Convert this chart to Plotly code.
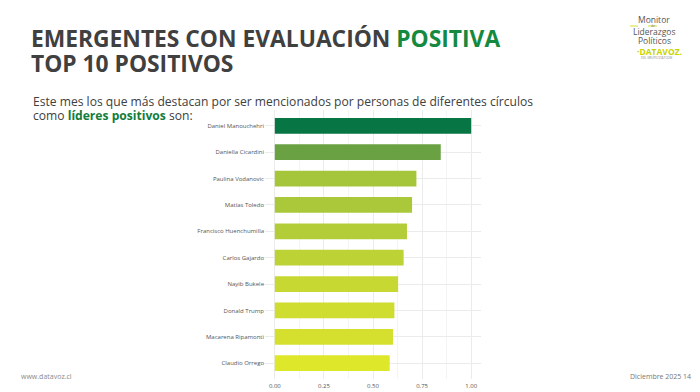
import plotly.graph_objects as go

names = ["Daniel Manouchehri", "Daniella Cicardini", "Paulina Vodanovic", "Matías Toledo",
         "Francisco Huenchumilla", "Carlos Gajardo", "Nayib Bukele", "Donald Trump",
         "Macarena Ripamonti", "Claudio Orrego"]
values = [1.00, 0.845, 0.721, 0.699, 0.673, 0.656, 0.628, 0.609, 0.602, 0.585]
bar_colors = ["#077544", "#6aa243", "#a5c53a", "#aac83a", "#b3cd38", "#bcd235",
              "#c7d832", "#cfdc30", "#d5e02e", "#dee72a"]
tick_vals = [0, 0.25, 0.5, 0.75, 1.0]
tick_text = ["0.00", "0.25", "0.50", "0.75", "1.00"]

W, H = 700, 392
L, R, T, B = 265, 700 - 481, 110, 392 - 379
PW, PH = W - L - R, H - T - B

def px(x):
    return (x - L) / PW

def py(y):
    return (H - B - y) / PH

fig = go.Figure(go.Bar(
    y=names, x=values, orientation="h", width=0.6,
    marker=dict(color=bar_colors, line=dict(width=0)),
    hoverinfo="skip",
))

grid = "#ebebeb"
fig.update_layout(
    width=W, height=H, margin=dict(l=L, r=R, t=T, b=B, autoexpand=False),
    paper_bgcolor="white", plot_bgcolor="white", showlegend=False,
    font=dict(family="Open Sans", color="#4d4d4d"),
    xaxis=dict(range=[-0.05, 1.05], tickvals=tick_vals, ticktext=tick_text,
               showgrid=True, gridcolor=grid, gridwidth=0.8, zeroline=False,
               showline=False, ticks="", tickfont=dict(size=6, color="#555555"),
               ticklabelstandoff=2,
               minor=dict(tickvals=[0.125, 0.375, 0.625, 0.875], showgrid=True,
                          gridcolor="#f4f4f4", gridwidth=0.5),
               fixedrange=True, automargin=False),
    yaxis=dict(range=[9.6, -0.6], categoryorder="array", categoryarray=names,
               showgrid=True, gridcolor=grid, gridwidth=0.8, zeroline=False,
               showline=False, ticks="", tickfont=dict(size=6, color="#555555"),
               fixedrange=True, automargin=False),
)

anns = []
def add(text, x, y, size, color="#404040", xanchor="left", yanchor="middle", family="Open Sans", **kw):
    anns.append(dict(text=text, x=px(x), y=py(y), xref="paper", yref="paper",
                     showarrow=False, xanchor=xanchor, yanchor=yanchor, borderpad=0,
                     font=dict(size=size, color=color, family=family), **kw))

green = "#148a41"
add("<b>EMERGENTES CON EVALUACIÓN <span style='color:%s'>POSITIVA</span></b>" % green,
    30, 38, 22.8, color="#404040")
add("<b>TOP 10 POSITIVOS</b>", 30, 64, 22.8, color="#404040")
add("Este mes los que más destacan por ser mencionados por personas de diferentes círculos",
    32, 101, 12.1, color="#404040")
add("como <b><span style='color:#0f7d3c'>líderes positivos</span></b> son:",
    32, 116, 12.1, color="#404040")

# logo
add("Monitor", 654, 19.5, 8.5, color="#555555", xanchor="center")
add("de", 653, 26, 3.2, color="#777777", xanchor="center")
add("Liderazgos", 654, 32, 8.5, color="#555555", xanchor="center")
add("Políticos", 654, 40.5, 8.5, color="#555555", xanchor="center")
add("<b>·DATAVOZ.</b>", 659, 51, 8.5, color="#c8d400", xanchor="center")
add("DEL GRUPO STATCOM", 656, 58, 3, color="#888888", xanchor="center")

# footer
add("www.datavoz.cl", 20, 376, 7, color="#8a8a8a")
add("Diciembre 2025", 682, 376, 7, color="#777777", xanchor="right")
add("14", 682, 376, 7, color="#777777", xanchor="left")

fig.update_layout(annotations=anns)
fig.add_shape(type="line", xref="paper", yref="paper", x0=px(630), x1=px(638), y0=py(26), y1=py(26),
              line=dict(color="#c8d400", width=0.8))
fig.add_shape(type="line", xref="paper", yref="paper", x0=px(648), x1=px(657), y0=py(26), y1=py(26),
              line=dict(color="#c8d400", width=0.8))

fig.write_html("out.html", config={"displayModeBar": False},
               post_script="document.body.style.margin='0';document.body.style.overflow='hidden';")
